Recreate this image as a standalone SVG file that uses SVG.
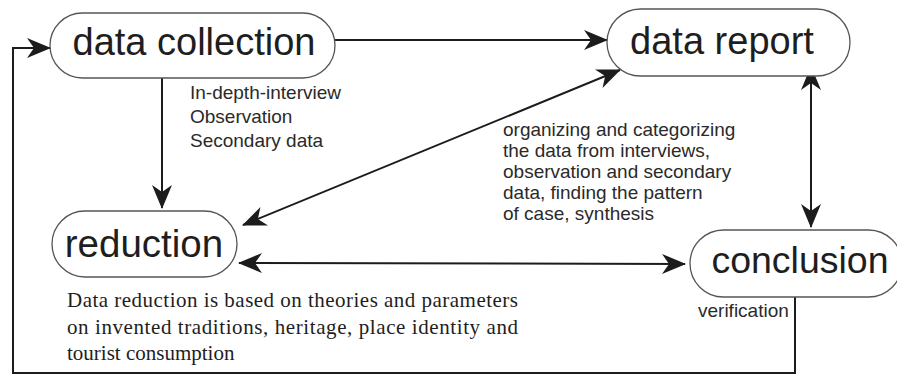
<svg xmlns="http://www.w3.org/2000/svg" width="897" height="376" viewBox="0 0 897 376">
<style>
.node{fill:#fff;stroke:#555;stroke-width:1.3}
.big{font-family:"Liberation Sans",Arial,sans-serif;fill:#1e1e1e;text-anchor:middle}
.lbl{font-family:"Liberation Sans",Arial,sans-serif;fill:#2a2a2a;font-size:19px}
.serif{font-family:"Liberation Serif","Times New Roman",serif;fill:#1e1e1e;font-size:21px}
.con{fill:none;stroke:#1c1c1c;stroke-width:2}
</style>
<defs>
<marker id="ah" viewBox="0 0 24 22" refX="23" refY="11" markerWidth="12" markerHeight="11" orient="auto-start-reverse">
<path d="M0,1 L24,11 L0,21 L7,11 Z" fill="#1c1c1c"/>
</marker>
</defs>
<rect width="897" height="376" fill="#fff"/>
<g id="connectors">
<polyline class="con" points="795,297 795,373 13,373 13,48 50,48" marker-end="url(#ah)"/>
<line class="con" x1="335" y1="40" x2="607" y2="40" marker-end="url(#ah)"/>
<line class="con" x1="162" y1="78" x2="162" y2="208" marker-end="url(#ah)"/>
<line class="con" x1="243" y1="225" x2="620" y2="70" marker-start="url(#ah)" marker-end="url(#ah)"/>
<line class="con" x1="239" y1="263" x2="685" y2="264" marker-start="url(#ah)" marker-end="url(#ah)"/>
<line class="con" x1="811" y1="67" x2="811" y2="227" marker-start="url(#ah)" marker-end="url(#ah)"/>
</g>
<g id="data-collection">
<rect class="node" x="50" y="13" width="285" height="65" rx="32.5"/>
<text class="big" x="194" y="55" font-size="38">data collection</text>
</g>
<g id="data-report">
<rect class="node" x="607" y="9" width="243" height="67" rx="33.5"/>
<text class="big" x="722" y="54" font-size="38">data report</text>
</g>
<g id="reduction">
<rect class="node" x="52" y="211" width="185" height="66" rx="33"/>
<text class="big" x="144" y="257" font-size="38.5">reduction</text>
</g>
<g id="conclusion">
<rect class="node" x="690" y="230" width="212" height="67" rx="33.5"/>
<text class="big" x="800" y="273" font-size="37.5">conclusion</text>
</g>
<g id="labels">
<text class="lbl" x="190" y="98.5" font-size="18.5">In-depth-interview</text>
<text class="lbl" x="190" y="122.5" font-size="18.5">Observation</text>
<text class="lbl" x="190" y="146.5" font-size="18.5">Secondary data</text>
<text class="lbl" x="503" y="135.5">organizing and categorizing</text>
<text class="lbl" x="503" y="156.5">the data from interviews,</text>
<text class="lbl" x="503" y="177.5">observation and secondary</text>
<text class="lbl" x="503" y="198.5">data, finding the pattern</text>
<text class="lbl" x="503" y="219.5">of case, synthesis</text>
<text class="lbl" x="698" y="317" font-size="18.5">verification</text>
<text class="serif" x="67" y="307" textLength="451" lengthAdjust="spacing">Data reduction is based on theories and parameters</text>
<text class="serif" x="67" y="334" textLength="451" lengthAdjust="spacing">on invented traditions, heritage, place identity and</text>
<text class="serif" x="67" y="360">tourist consumption</text>
</g>
</svg>
